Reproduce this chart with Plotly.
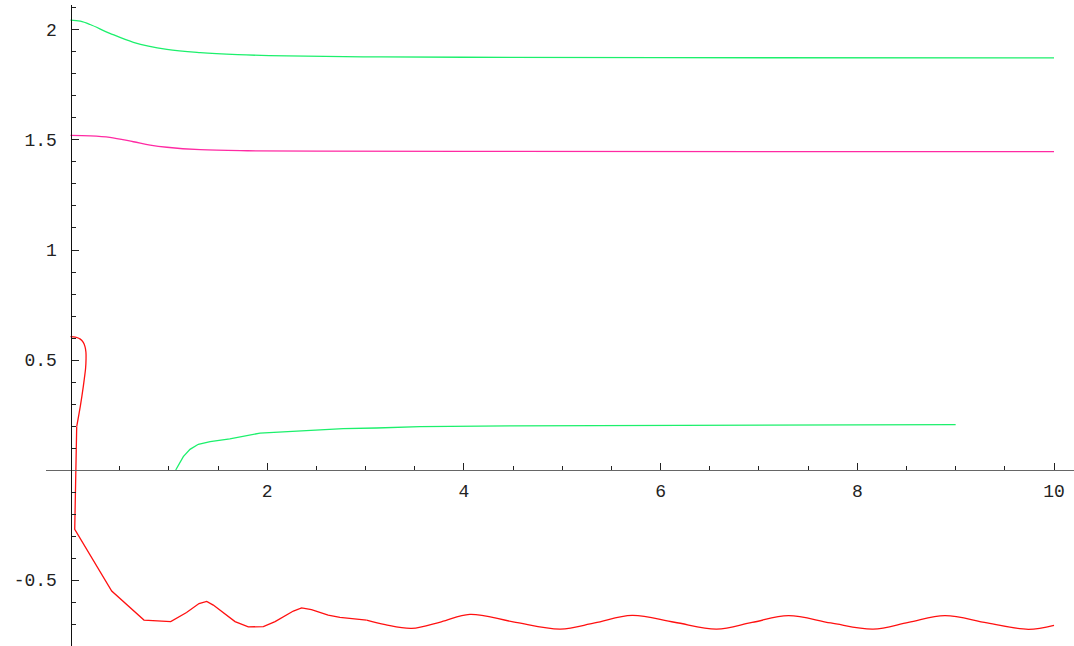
import plotly.graph_objects as go

# Upper green branch
g1_x = [0, 0.1, 0.2, 0.4, 0.64, 0.98, 1.32, 1.7, 2.2, 3.0, 4.0, 6.0, 10.0]
g1_y = [2.045, 2.04, 2.025, 1.985, 1.944, 1.912, 1.897, 1.888, 1.882, 1.878, 1.876, 1.874, 1.873]

# Magenta branch
m_x = [0, 0.2, 0.4, 0.64, 0.81, 0.98, 1.32, 1.8, 2.5, 4.0, 10.0]
m_y = [1.521, 1.519, 1.512, 1.492, 1.477, 1.467, 1.456, 1.451, 1.449, 1.448, 1.447]

# Lower green branch (starts near x = 1.07)
g2_x = [1.07, 1.147, 1.215, 1.3, 1.42, 1.62, 1.927, 2.265, 2.774, 3.11, 3.553, 4.5, 6.4, 9.0]
g2_y = [0.0, 0.061, 0.094, 0.117, 0.129, 0.141, 0.168, 0.177, 0.188, 0.191, 0.197, 0.201, 0.204, 0.206]

# Red branch: initial loop near the y axis
r0_x = [0, 0.05, 0.1, 0.13, 0.148, 0.157, 0.158, 0.153, 0.142, 0.13, 0.1, 0.063]
r0_y = [0.606, 0.604, 0.595, 0.58, 0.56, 0.535, 0.505, 0.46, 0.42, 0.379, 0.29, 0.197]

# Red branch: transient
r1_x = [0.063, 0.055, 0.043, 0.419, 0.747, 1.019, 1.18, 1.307, 1.385, 1.452, 1.673, 1.808,
        1.961, 2.08, 2.266, 2.35, 2.45, 2.62, 2.74, 3.01]
r1_y = [0.197, 0.0, -0.27, -0.55, -0.682, -0.689, -0.648, -0.607, -0.597, -0.614, -0.689, -0.713,
        -0.712, -0.689, -0.641, -0.627, -0.635, -0.66, -0.67, -0.682]

# Red branch: settled oscillation
r2_x = [3.01, 3.2, 3.47, 3.77, 4.06, 4.5, 4.98, 5.33, 5.71, 6.14, 6.57, 6.93, 7.30, 7.73,
        8.16, 8.52, 8.89, 9.32, 9.74, 10.0]
r2_y = [-0.682, -0.703, -0.720, -0.69, -0.656, -0.69, -0.723, -0.695, -0.661, -0.692, -0.723,
        -0.693, -0.662, -0.695, -0.723, -0.693, -0.662, -0.695, -0.724, -0.706]

# Axis ticks
x_major = [2, 4, 6, 8, 10]
x_major_text = ["2", "4", "6", "8", "10"]
x_minor = [0.5, 1, 1.5, 2.5, 3, 3.5, 4.5, 5, 5.5, 6.5, 7, 7.5, 8.5, 9, 9.5, 10]
y_major = [-0.5, 0.5, 1, 1.5, 2]
y_major_text = ["-0.5", "0.5", "1", "1.5", "2"]
y_minor = [-0.7, -0.6, -0.4, -0.3, -0.2, -0.1, 0.1, 0.2, 0.3, 0.4, 0.6, 0.7, 0.8, 0.9,
           1.1, 1.2, 1.3, 1.4, 1.6, 1.7, 1.8, 1.9, 2.1]

GREEN = "#1cf06c"
MAGENTA = "#ff2aa3"
RED = "#ff1010"
W = 1074
H = 646

fig = go.Figure()
fig.add_trace(go.Scatter(x=g1_x, y=g1_y, mode="lines", line=dict(color=GREEN, width=1.3, shape="spline")))
fig.add_trace(go.Scatter(x=m_x, y=m_y, mode="lines", line=dict(color=MAGENTA, width=1.3, shape="spline")))
fig.add_trace(go.Scatter(x=g2_x, y=g2_y, mode="lines", line=dict(color=GREEN, width=1.3)))
fig.add_trace(go.Scatter(x=r0_x, y=r0_y, mode="lines", line=dict(color=RED, width=1.3, shape="spline")))
fig.add_trace(go.Scatter(x=r1_x, y=r1_y, mode="lines", line=dict(color=RED, width=1.3)))
fig.add_trace(go.Scatter(x=r2_x, y=r2_y, mode="lines", line=dict(color=RED, width=1.3, shape="spline")))

tick_font = dict(family="Liberation Mono", size=18, color="#222222")

# Axes cross at the origin
x0_px = 70.5
y0_px = 470.0
fig.update_layout(
    width=W, height=H,
    margin=dict(l=0, r=0, t=0, b=0),
    paper_bgcolor="white", plot_bgcolor="white",
    showlegend=False,
    xaxis=dict(
        domain=[46 / W, 1.0],
        range=[-0.2491, 10.2033],
        anchor="free", position=(H - y0_px) / H,
        showgrid=False, zeroline=False,
        showline=True, linecolor="#666666", linewidth=1,
        tickmode="array", tickvals=x_major, ticktext=x_major_text,
        ticks="inside", ticklen=7, tickcolor="#222222", tickwidth=1,
        ticklabelstandoff=4,
        minor=dict(tickmode="array", tickvals=x_minor, ticks="inside", ticklen=4,
                   tickcolor="#222222", tickwidth=1),
        tickfont=tick_font, automargin=False,
    ),
    yaxis=dict(
        domain=[0, 641 / H],
        range=[-0.8, 2.1136],
        anchor="free", position=x0_px / W,
        showgrid=False, zeroline=False,
        showline=True, linecolor="#111111", linewidth=1,
        tickmode="array", tickvals=y_major, ticktext=y_major_text,
        ticks="inside", ticklen=7, tickcolor="#222222", tickwidth=1,
        ticklabelstandoff=10,
        minor=dict(tickmode="array", tickvals=y_minor, ticks="inside", ticklen=4,
                   tickcolor="#222222", tickwidth=1),
        tickfont=tick_font, automargin=False,
    ),
)

fig.write_html("out.html")
